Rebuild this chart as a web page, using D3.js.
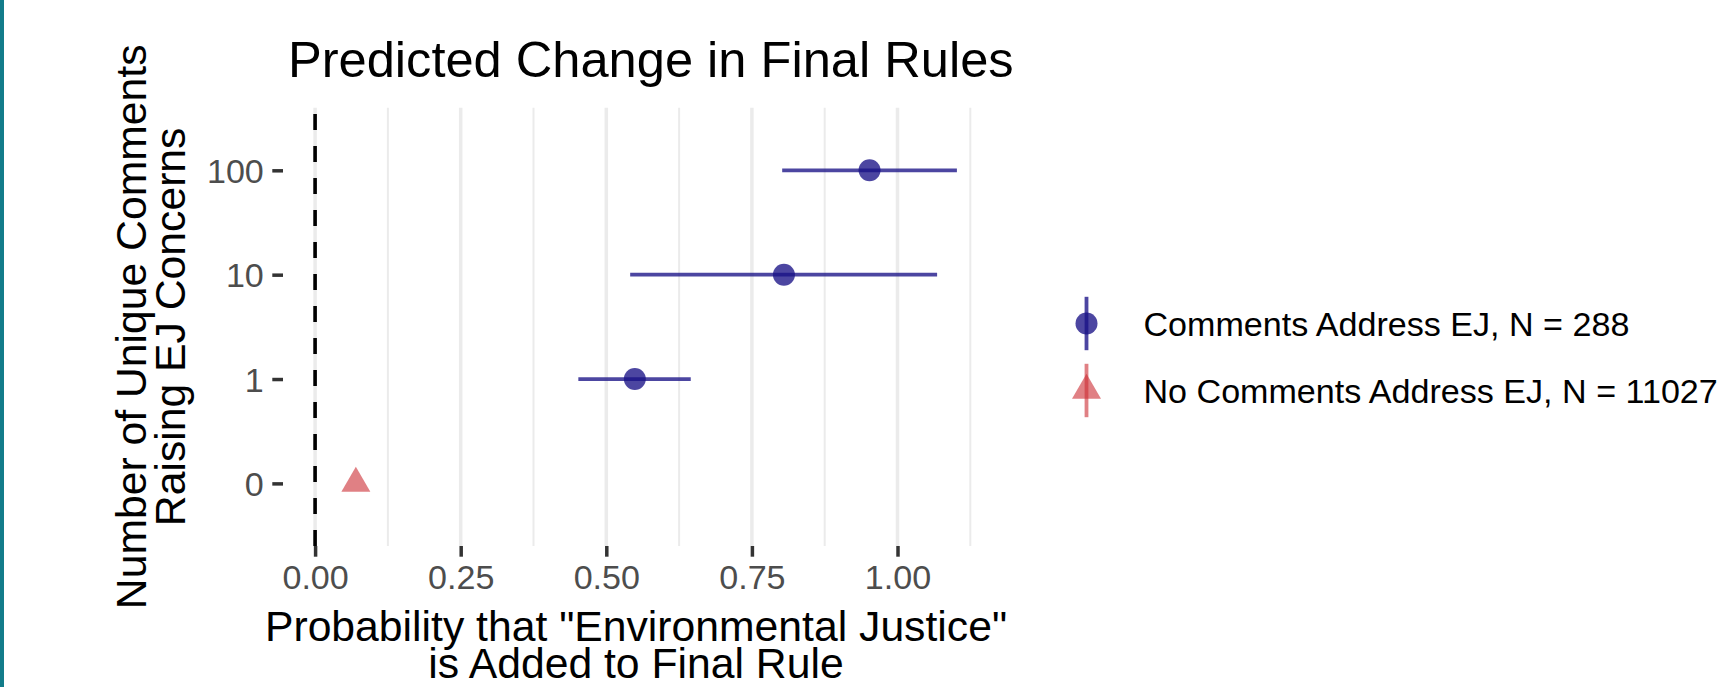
<!DOCTYPE html>
<html>
<head>
<meta charset="utf-8">
<script src="https://cdn.jsdelivr.net/npm/d3@7"></script>
<style>
  html, body { margin: 0; padding: 0; background: #ffffff; }
  svg { display: block; }
  text { font-family: "Liberation Sans", Arial, Helvetica, sans-serif; }
</style>
</head>
<body>
<script>
// Number of unique comments raising EJ concerns (y categories, bottom to top)
const categories = ["0", "1", "10", "100"];
// Which group each category belongs to
const groups = [
  "No Comments Address EJ, N = 11027",
  "Comments Address EJ, N = 288",
  "Comments Address EJ, N = 288",
  "Comments Address EJ, N = 288"
];
// Predicted probability and its interval
const estimates = [0.070, 0.549, 0.805, 0.952];
const lowers    = [0.070, 0.452, 0.541, 0.802];
const uppers    = [0.070, 0.645, 1.068, 1.102];

const xTicks = [0, 0.25, 0.5, 0.75, 1.0];
const xMinor = [0.125, 0.375, 0.625, 0.875, 1.125];
const legendOrder = ["Comments Address EJ, N = 288", "No Comments Address EJ, N = 11027"];

const W = 1724, H = 687;
const panel = { left: 283, right: 989, top: 107.7, bottom: 546 };

const colors = {
  "Comments Address EJ, N = 288": "#1a1287",
  "No Comments Address EJ, N = 11027": "#cb2b32"
};
const alphas = {
  "Comments Address EJ, N = 288": 0.78,
  "No Comments Address EJ, N = 11027": 0.6
};
const shapes = {
  "Comments Address EJ, N = 288": d3.symbolCircle,
  "No Comments Address EJ, N = 11027": d3.symbolTriangle
};
const symSize = {
  "Comments Address EJ, N = 288": Math.PI * 11 * 11,
  "No Comments Address EJ, N = 11027": 364
};

const rows = categories.map((c, i) => ({
  cat: c, group: groups[i], est: estimates[i], lo: lowers[i], hi: uppers[i]
}));

const svg = d3.select("body").append("svg")
  .attr("width", W).attr("height", H);

svg.append("rect").attr("width", W).attr("height", H).attr("fill", "#ffffff");
// accent strip on the left edge
svg.append("rect").attr("x", 0).attr("y", 0).attr("width", 4).attr("height", H).attr("fill", "#127c8a");

// x scale: data extent (including the reference line at 0) expanded by 5%
const xMin = Math.min(0, d3.min(lowers)), xMax = Math.max(0, d3.max(uppers));
const pad = (xMax - xMin) * 0.05;
const x = d3.scaleLinear().domain([xMin - pad, xMax + pad]).range([panel.left, panel.right]);
const y = d3.scalePoint().domain(categories).range([panel.bottom, panel.top]).padding(0.6);

// grid
const grid = svg.append("g");
grid.selectAll("line.minor").data(xMinor).join("line")
  .attr("class", "minor")
  .attr("x1", d => x(d)).attr("x2", d => x(d))
  .attr("y1", panel.top).attr("y2", panel.bottom)
  .attr("stroke", "#ebebeb").attr("stroke-width", 2);
grid.selectAll("line.major").data(xTicks).join("line")
  .attr("class", "major")
  .attr("x1", d => x(d)).attr("x2", d => x(d))
  .attr("y1", panel.top).attr("y2", panel.bottom)
  .attr("stroke", "#ebebeb").attr("stroke-width", 3.5);

// x axis
const xAxis = d3.axisBottom(x).tickValues(xTicks).tickFormat(d3.format(".2f"))
  .tickSize(10.7).tickPadding(10);
const gx = svg.append("g").attr("transform", `translate(0,${panel.bottom})`).call(xAxis);
gx.select(".domain").remove();
gx.selectAll(".tick line").attr("stroke", "#333333").attr("stroke-width", 3.5);
gx.selectAll(".tick text").attr("fill", "#4d4d4d").attr("font-size", 34.1)
  .attr("dy", null).attr("y", 42.5);

// y axis
const yAxis = d3.axisLeft(y).tickSize(10.7).tickPadding(8.5);
const gy = svg.append("g").attr("transform", `translate(${panel.left},0)`).call(yAxis);
gy.select(".domain").remove();
gy.selectAll(".tick line").attr("stroke", "#333333").attr("stroke-width", 3.5);
gy.selectAll(".tick text").attr("fill", "#4d4d4d").attr("font-size", 34.1).attr("dy", "0.36em");

// reference line at zero
svg.append("line")
  .attr("x1", x(0)).attr("x2", x(0))
  .attr("y1", panel.bottom).attr("y2", panel.top)
  .attr("stroke", "#000000").attr("stroke-width", 3.6)
  .attr("stroke-dasharray", "16,16");

// intervals
const marks = svg.append("g");
marks.selectAll("line.ci").data(rows.filter(d => d.hi > d.lo)).join("line")
  .attr("class", "ci")
  .attr("x1", d => x(d.lo)).attr("x2", d => x(d.hi))
  .attr("y1", d => y(d.cat)).attr("y2", d => y(d.cat))
  .attr("stroke", d => colors[d.group]).attr("stroke-opacity", d => alphas[d.group])
  .attr("stroke-width", 3.8);

// point estimates
marks.selectAll("path.pt").data(rows).join("path")
  .attr("class", "pt")
  .attr("d", d => d3.symbol(shapes[d.group], symSize[d.group])())
  .attr("transform", d => `translate(${x(d.est)},${y(d.cat)})`)
  .attr("fill", d => colors[d.group]).attr("fill-opacity", d => alphas[d.group]);

// title
svg.append("text").attr("x", 288).attr("y", 77)
  .attr("font-size", 50.6).attr("fill", "#000000")
  .text("Predicted Change in Final Rules");

// x axis title, two lines
const xTitleLines = ["Probability that \"Environmental Justice\"", "is Added to Final Rule"];
svg.selectAll("text.xtitle").data(xTitleLines).join("text")
  .attr("class", "xtitle")
  .attr("text-anchor", "middle").attr("font-size", 42.7).attr("fill", "#000000")
  .attr("x", (panel.left + panel.right) / 2)
  .attr("y", (d, i) => 641 + i * 37)
  .text(d => d);

// y axis title, two lines
const yc = (panel.top + panel.bottom) / 2;
const yTitleLines = ["Number of Unique Comments", "Raising EJ Concerns"];
svg.selectAll("text.ytitle").data(yTitleLines).join("text")
  .attr("class", "ytitle")
  .attr("text-anchor", "middle").attr("font-size", 42.7).attr("fill", "#000000")
  .attr("transform", (d, i) => `translate(${146 + i * 38.5},${yc}) rotate(-90)`)
  .text(d => d);

// legend
const legendY = [323.5, 390.5];
const lg = svg.append("g");
legendOrder.forEach((g, i) => {
  const cx = 1086.5, cy = legendY[i];
  lg.append("line").attr("x1", cx).attr("x2", cx).attr("y1", cy - 26.7).attr("y2", cy + 26.7)
    .attr("stroke", colors[g]).attr("stroke-opacity", alphas[g]).attr("stroke-width", 3.8);
  lg.append("path").attr("d", d3.symbol(shapes[g], symSize[g])())
    .attr("transform", `translate(${cx},${cy})`)
    .attr("fill", colors[g]).attr("fill-opacity", alphas[g]);
  lg.append("text").attr("x", 1143.5).attr("y", cy).attr("dy", "0.36em")
    .attr("font-size", 34.1).attr("fill", "#000000").text(g);
});
</script>
</body>
</html>
